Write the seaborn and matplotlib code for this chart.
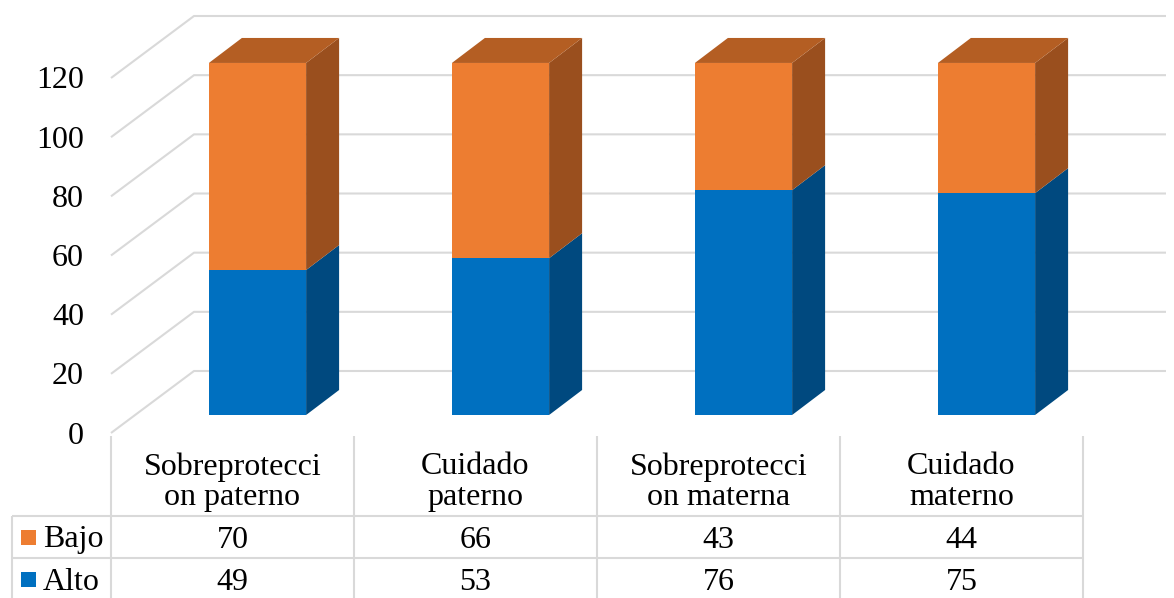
import matplotlib
matplotlib.use("Agg")
import matplotlib.pyplot as plt
from matplotlib.patches import Polygon, Rectangle
import pandas as pd
import seaborn as sns

# chart data
categories = ["Sobreprotecci\non paterno", "Cuidado\npaterno",
              "Sobreprotecci\non materna", "Cuidado\nmaterno"]
bajo = [70, 66, 43, 44]
alto = [49, 53, 76, 75]
y_ticks = [0, 20, 40, 60, 80, 100, 120]

ORANGE, ORANGE_SIDE, ORANGE_TOP = "#ED7D31", "#9A4F1E", "#B45E23"
BLUE, BLUE_SIDE, BLUE_TOP = "#0070C0", "#00497F", "#005A9A"
GRID = "#D9D9D9"
FS = 23

W, H = 1174, 598
sns.set_style("white")
plt.rcParams["font.family"] = ["Liberation Serif", "DejaVu Serif"]
plt.rcParams["text.color"] = "black"

fig = plt.figure(figsize=(W / 100, H / 100), dpi=100)
# axes = front wall of the 3d box, x: -0.5..3.5, y: 0..120
ax = fig.add_axes([111 / W, (H - 433) / H, 972 / W, 355 / H])

ux = 4 / 972
uy = 120 / 355


def X(p):
    # image pixel x -> data x
    return -0.5 + (p - 111) * ux


def Y(p):
    # image pixel y -> data y
    return (433 - p) * uy


TXT_DY = 3 * uy  # va="center" sits a bit high for digits

# back wall / side wall gridlines
back_dx, back_dy = 83 * ux, 62 * uy
for v in y_ticks:
    ax.plot([-0.5, -0.5 + back_dx, 3.5 + back_dx], [v, v + back_dy, v + back_dy],
            color=GRID, lw=1.5, zorder=0, clip_on=False, solid_capstyle="butt")
    ax.text(X(84), v - TXT_DY, str(v), ha="right", va="center", fontsize=FS)

# stacked bars (front faces)
df = pd.DataFrame({"cat": categories, "Bajo": bajo, "Alto": alto})
df["total"] = df["Bajo"] + df["Alto"]
sns.barplot(data=df, x="cat", y="total", color=ORANGE, saturation=1, width=0.4,
            linewidth=0, ax=ax, zorder=3)
sns.barplot(data=df, x="cat", y="Alto", color=BLUE, saturation=1, width=0.4,
            linewidth=0, ax=ax, zorder=4)

bx, by = 25 * ux, 18 * uy
for p in ax.patches:
    p.set_x(p.get_x() + bx)
    p.set_y(p.get_y() + by)
    p.set_clip_on(False)

# depth faces
ddx, ddy = 33 * ux, 25 * uy
n = len(categories)
faces = []
for i in range(n):
    tot, blue = ax.patches[i], ax.patches[n + i]
    x0, x1 = tot.get_x(), tot.get_x() + tot.get_width()
    y0, ym, y1 = tot.get_y(), blue.get_y() + blue.get_height(), tot.get_y() + tot.get_height()
    faces.append((Polygon([(x1, y0), (x1 + ddx, y0 + ddy), (x1 + ddx, ym + ddy), (x1, ym)]), BLUE_SIDE))
    faces.append((Polygon([(x1, ym), (x1 + ddx, ym + ddy), (x1 + ddx, y1 + ddy), (x1, y1)]), ORANGE_SIDE))
    faces.append((Polygon([(x0, y1), (x0 + ddx, y1 + ddy), (x1 + ddx, y1 + ddy), (x1, y1)]), ORANGE_TOP))
for poly, c in faces:
    poly.set_facecolor(c)
    poly.set_edgecolor("none")
    poly.set_zorder(2)
    poly.set_clip_on(False)
    ax.add_patch(poly)

ax.set_xlim(-0.5, 3.5)
ax.set_ylim(0, 120)
ax.axis("off")

# data table
line_kw = dict(color=GRID, lw=1.5, clip_on=False, zorder=1, solid_capstyle="butt")
for i in range(n + 1):
    ax.plot([i - 0.5, i - 0.5], [Y(436), Y(600)], **line_kw)
ax.plot([X(12), X(12)], [Y(516), Y(600)], **line_kw)
for yy in [516, 558]:
    ax.plot([X(12), 3.5], [Y(yy), Y(yy)], **line_kw)

for i in range(n):
    ax.text(i, Y(482), categories[i], ha="center", va="center", fontsize=FS,
            linespacing=1.05)
    ax.text(i, Y(537) - TXT_DY, str(bajo[i]), ha="center", va="center", fontsize=FS)
    ax.text(i, Y(579) - TXT_DY, str(alto[i]), ha="center", va="center", fontsize=FS)

for name, col, yc in [("Bajo", ORANGE, 537), ("Alto", BLUE, 579)]:
    ax.add_patch(Rectangle((X(21), Y(yc + 8)), 15 * ux, 15 * uy, facecolor=col,
                           edgecolor="none", clip_on=False))
    ax.text(X(43), Y(yc) - TXT_DY, name, ha="left", va="center", fontsize=FS)

fig.savefig("out.png", dpi=100)
